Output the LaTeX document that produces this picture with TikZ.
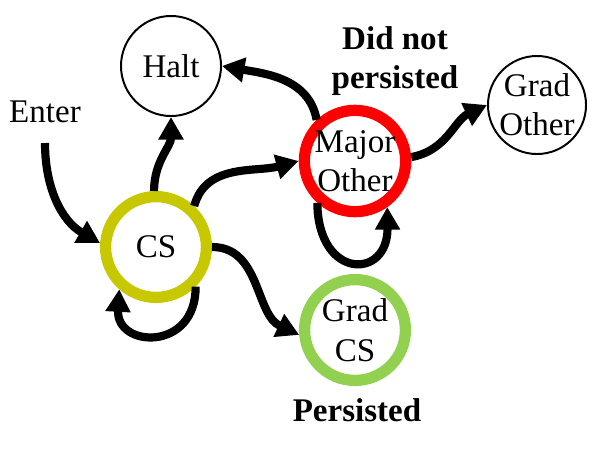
\documentclass[tikz,border=0pt]{standalone}
\usepackage{fontspec}
\setmainfont{Liberation Serif}
\usetikzlibrary{arrows.meta}
\definecolor{csyellow}{RGB}{200,200,0}
\definecolor{gradgreen}{RGB}{146,208,80}
\begin{document}
\begin{tikzpicture}[x=0.025cm, y=-0.025cm,
  state/.style={circle, draw, inner sep=0pt, align=center, minimum size=2.5cm, line width=1.4pt, font=\fontsize{23.5}{28}\selectfont},
  ring/.style={state, line width=8pt, minimum size=2.52cm},
  note/.style={align=center, font=\fontsize{23.5}{28}\selectfont\bfseries},
  trans/.style={line width=5.8pt, -{Triangle[length=16pt, width=17pt]}}]
\useasboundingbox (0,0) rectangle (603,462);

\node[state] (halt) at (171,66) {Halt};
\node[font=\fontsize{23.5}{28}\selectfont] (enter) at (45,112) {Enter};
\coordinate (enterout) at (45,143);
\node[ring, draw=csyellow] (cs) at (156,247) {CS};
\node[ring, draw=red] (major) at (355,161) {Major\\Other};
\node[state, minimum size=2.45cm] (gother) at (537,105) {Grad\\Other};
\node[ring, draw=gradgreen] (gcs) at (355,330) {Grad\\CS};

\node[note] (didnot) at (395,61) {Did not\\persisted};
\node[note] (persisted) at (357,410) {Persisted};

\draw[trans] (enterout) to[out=-90, in=150] (cs.176);
\draw[trans] (cs.92) to[out=90, in=-90] (halt.south);
\draw[trans] (cs.47) to[out=75, in=195] (major.west);
\draw[trans] (major.133) to[out=100, in=-10] (halt.east);
\draw[trans] (major.4) to[out=10, in=205] (gother.west);
\draw[trans] (cs.0) to[out=0, in=155] (gcs.185);

% loops
\draw[trans] (major.228) .. controls (318,280) and (388,280) .. (major.305);
\draw[trans] (cs.-45) .. controls (196,352) and (116,348) .. (cs.229);

\end{tikzpicture}
\end{document}
